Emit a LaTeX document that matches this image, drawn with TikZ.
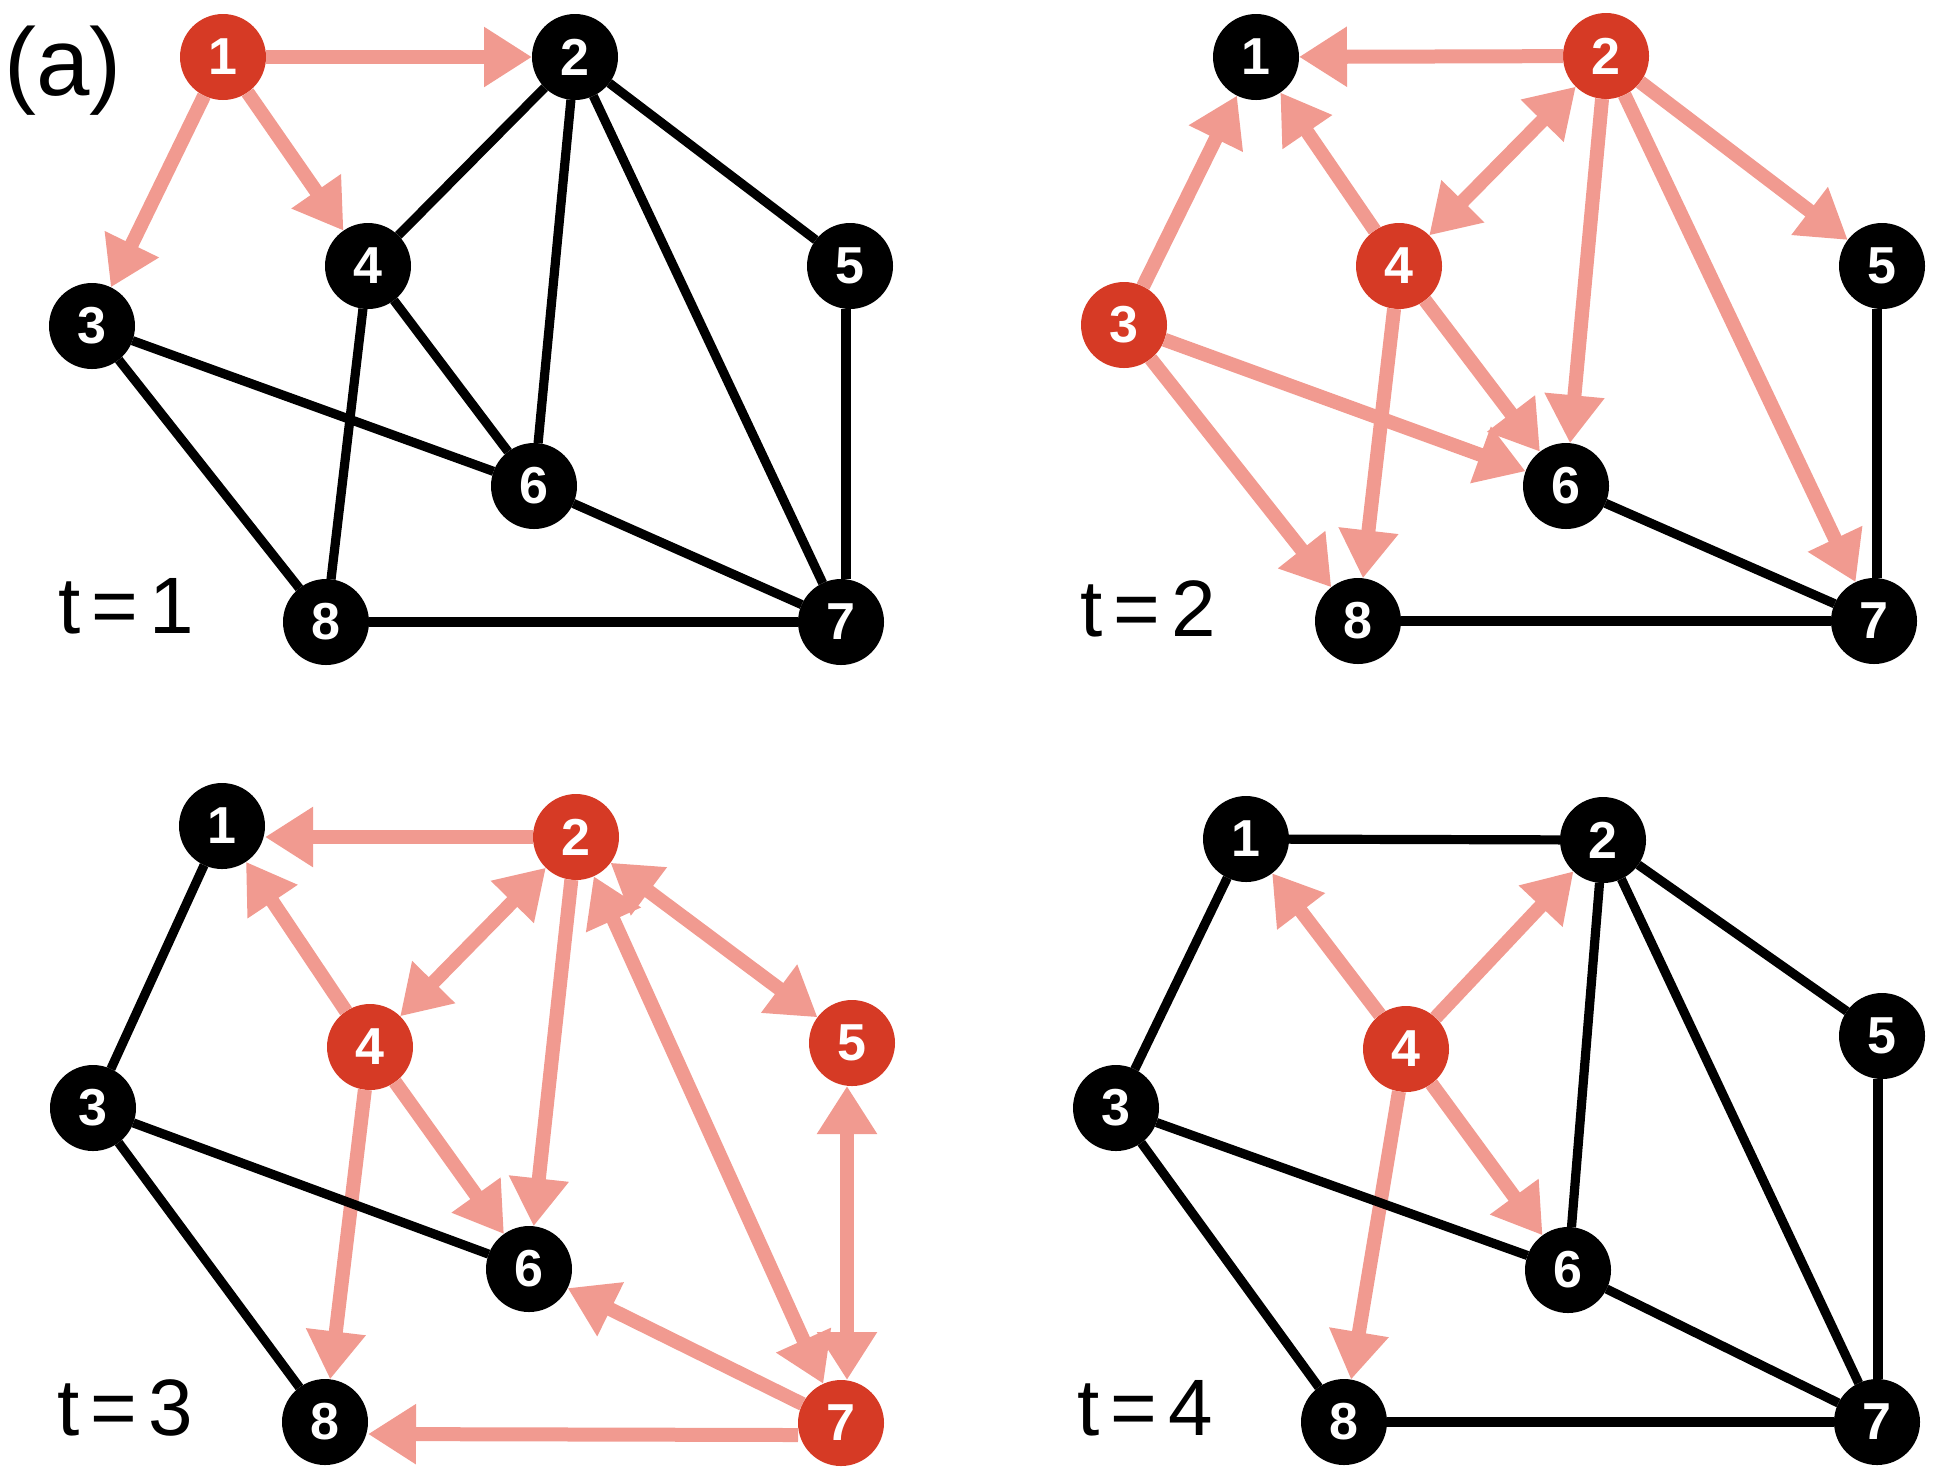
\documentclass[tikz,border=0pt]{standalone}
\usepackage{fontspec}
\setmainfont{Liberation Sans}
\usetikzlibrary{arrows.meta}
\definecolor{nodered}{HTML}{D63A25}
\definecolor{arrowpink}{HTML}{F19A90}
\begin{document}
\begin{tikzpicture}[x=0.5pt,y=-0.5pt,
  vtx/.style={circle,fill=black,text=white,minimum size=43pt,inner sep=0pt,outer sep=0pt,
    font=\fontsize{26}{26}\selectfont\bfseries},
  hot/.style={vtx,fill=nodered},
  edge/.style={line width=4.6pt,black},
  spread/.style={line width=7pt,arrowpink,-{Triangle[length=24pt,width=28.5pt]}},
  both/.style={line width=7pt,arrowpink,{Triangle[length=24pt,width=28.5pt]}-{Triangle[length=24pt,width=28.5pt]}},
  tlabel/.style={anchor=base west,inner sep=0pt,font=\fontsize{40}{40}\selectfont},
  panellabel/.style={anchor=base west,inner sep=0pt,font=\fontsize{48}{48}\selectfont}]
\useasboundingbox (0,0) rectangle (1946,1480);

% ---------- panel t = 1 ----------
\node[hot] (a1) at (223,57) {1};
\node[vtx] (a2) at (575,57) {2};
\node[vtx] (a3) at (92,326) {3};
\node[vtx] (a4) at (368,266) {4};
\node[vtx] (a5) at (850,266) {5};
\node[vtx] (a6) at (534,486) {6};
\node[vtx] (a7) at (841,622) {7};
\node[vtx] (a8) at (326,622) {8};
\draw[spread] (a1) -- (a2);
\draw[spread] (a1) -- (a4);
\draw[spread] (a1) -- (a3);
\foreach \u/\v in {2/4,2/6,2/7,2/5,4/6,4/8,3/6,3/8,6/7,8/7}
  \draw[edge] (a\u) -- (a\v);
\draw[edge] ([xshift=-2pt]a5.south) -- ([xshift=2.5pt]a7.north);
\node[panellabel] (lab) at (4,95) {(a)};
\node[tlabel] (ta) at (58,633) {{\spaceskip=0.14em t = 1}};

% ---------- panel t = 2 ----------
\node[vtx] (b1) at (1256,57) {1};
\node[hot] (b2) at (1606,56) {2};
\node[hot] (b3) at (1124,325) {3};
\node[hot] (b4) at (1399,266) {4};
\node[vtx] (b5) at (1882,266) {5};
\node[vtx] (b6) at (1566,486) {6};
\node[vtx] (b7) at (1874,621) {7};
\node[vtx] (b8) at (1358,621) {8};
\foreach \u/\v in {2/1,3/1,4/1,2/6,2/7,2/5,3/6,3/8,4/6,4/8}
  \draw[spread] (b\u) -- (b\v);
\draw[both] (b2) -- (b4);
\foreach \u/\v in {6/7,8/7}
  \draw[edge] (b\u) -- (b\v);
\draw[edge] ([xshift=-2.5pt]b5.south) -- ([xshift=1.5pt]b7.north);
\node[tlabel] (tb) at (1080,636) {{\spaceskip=0.14em t = 2}};

% ---------- panel t = 3 ----------
\node[vtx] (c1) at (222,826) {1};
\node[hot] (c2) at (576,837) {2};
\node[vtx] (c3) at (93,1108) {3};
\node[hot] (c4) at (370,1047) {4};
\node[hot] (c5) at (852,1043) {5};
\node[vtx] (c6) at (529,1269) {6};
\node[hot] (c7) at (841,1423) {7};
\node[vtx] (c8) at (325,1422) {8};
\draw[spread] (c2) -- (c2 -| c1.east);
\draw[spread] ([yshift=-6pt]c7.west) -- ([yshift=-6pt]c8.east);
\foreach \u/\v in {4/1,2/6,4/6,4/8,7/6}
  \draw[spread] (c\u) -- (c\v);
\foreach \u/\v in {2/4,2/5,2/7}
  \draw[both] (c\u) -- (c\v);
\draw[both] ([xshift=-2.5pt]c5.south) -- ([xshift=3pt]c7.north);
\foreach \u/\v in {1/3,3/6,3/8}
  \draw[edge] (c\u) -- (c\v);
\node[tlabel] (tc) at (57,1435) {{\spaceskip=0.14em t = 3}};

% ---------- panel t = 4 ----------
\node[vtx] (d1) at (1246,839) {1};
\node[vtx] (d2) at (1603,840) {2};
\node[vtx] (d3) at (1116,1108) {3};
\node[hot] (d4) at (1406,1049) {4};
\node[vtx] (d5) at (1882,1036) {5};
\node[vtx] (d6) at (1568,1270) {6};
\node[vtx] (d7) at (1877,1422) {7};
\node[vtx] (d8) at (1344,1422) {8};
\foreach \u/\v in {4/1,4/2,4/6,4/8}
  \draw[spread] (d\u) -- (d\v);
\foreach \u/\v in {1/2,1/3,2/6,2/7,2/5,3/6,3/8,6/7,8/7}
  \draw[edge] (d\u) -- (d\v);
\draw[edge] ([xshift=-2pt]d5.south) -- ([xshift=0.5pt]d7.north);
\node[tlabel] (td) at (1077,1435) {{\spaceskip=0.14em t = 4}};
\end{tikzpicture}
\end{document}
